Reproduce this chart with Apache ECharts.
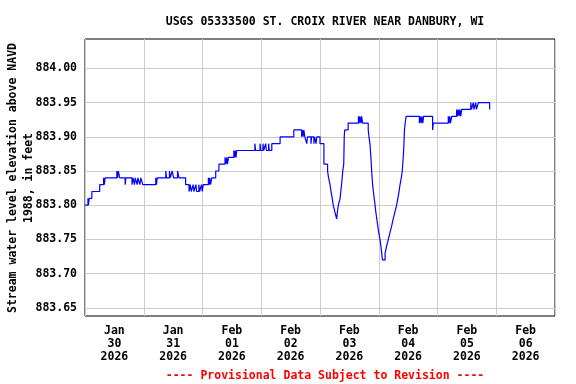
<!DOCTYPE html>
<html>
<head>
<meta charset="utf-8">
<script src="https://cdn.jsdelivr.net/npm/echarts@6/dist/echarts.min.js"></script>
<style>
html,body{margin:0;padding:0;background:#fff;}
#chart{width:576px;height:384px;}
</style>
</head>
<body>
<div id="chart"></div>
<script>
// Hours since 2026-01-30 00:00 and gage height (ft above NAVD 1988)
var hours = [
  0,1.2,1.4,1.7,2.8,6.0,7.6,7.9,8.2,
  13.0,13.3,13.6,14.2,16.4,16.7,
  19.2,19.6,20.2,20.5,21.3,21.6,22.4,22.8,23.6,
  28.9,29.2,29.5,
  33.0,33.3,34.5,34.8,35.6,36.2,37.8,38.4,
  41.1,42.5,43.0,43.4,44.2,44.5,45.3,45.6,46.5,46.8,47.6,47.9,
  48.3,50.4,50.7,51.0,51.3,51.8,53.4,54.7,
  57.2,57.5,57.9,58.2,58.6,60.8,61.1,61.4,61.7,62.0,
  69.4,69.7,71.5,71.8,72.7,73.0,73.8,74.1,75.0,75.3,76.3,
  79.7,85.3,88.5,88.8,89.1,89.4,89.8,
  90.6,90.9,92.3,92.6,93.5,93.8,94.4,94.7,96.0,
  97.6,99.1,99.5,100.1,100.5,101.0,101.4,102.1,102.8,103.1,103.5,
  104.2,104.5,104.8,105.3,105.7,105.9,106.1,107.5,
  111.7,112.0,112.3,112.7,113.0,113.4,
  115.7,116.0,116.4,116.8,117.1,117.5,117.8,118.5,118.8,119.2,
  119.6,120.0,120.5,120.9,121.2,121.5,
  122.6,123.2,123.9,124.6,125.3,125.9,126.6,127.3,127.8,128.3,128.7,129.2,129.6,
  130.0,130.3,130.5,130.8,131.2,
  136.6,136.9,137.3,137.6,138.0,138.3,142.0,142.3,
  148.4,148.7,149.0,149.3,149.8,
  151.8,152.1,152.5,152.8,153.2,153.5,153.9,
  157.6,157.9,158.6,158.9,159.6,159.9,160.7,165.3,165.5
];
var levels = [
  883.80,883.81,883.80,883.81,883.82,883.83,883.84,883.83,883.84,
  883.85,883.84,883.85,883.84,883.83,883.84,
  883.83,883.84,883.83,883.84,883.83,883.84,883.83,883.84,883.83,
  883.84,883.83,883.84,
  883.85,883.84,883.85,883.84,883.85,883.84,883.85,883.84,
  883.83,883.82,883.83,883.82,883.83,883.82,883.83,883.82,883.83,883.82,883.83,883.82,
  883.83,883.84,883.83,883.84,883.83,883.84,883.85,883.86,
  883.87,883.86,883.87,883.86,883.87,883.88,883.87,883.88,883.87,883.88,
  883.89,883.88,883.89,883.88,883.89,883.88,883.89,883.88,883.89,883.88,883.89,
  883.90,883.91,883.90,883.91,883.90,883.91,883.90,
  883.89,883.90,883.89,883.90,883.89,883.90,883.89,883.90,883.89,
  883.86,883.85,883.84,883.83,883.82,883.81,883.80,883.79,883.78,883.79,883.80,
  883.81,883.82,883.83,883.85,883.86,883.90,883.91,883.92,
  883.93,883.92,883.93,883.92,883.93,883.92,
  883.91,883.90,883.89,883.87,883.85,883.83,883.82,883.80,883.79,883.78,
  883.77,883.76,883.75,883.74,883.73,883.72,
  883.73,883.74,883.75,883.76,883.77,883.78,883.79,883.80,883.81,883.82,883.83,883.84,883.85,
  883.87,883.89,883.91,883.92,883.93,
  883.92,883.93,883.92,883.93,883.92,883.93,883.91,883.92,
  883.93,883.92,883.93,883.92,883.93,
  883.94,883.93,883.94,883.93,883.94,883.93,883.94,
  883.95,883.94,883.95,883.94,883.95,883.94,883.95,883.94,883.94
];
var dayLabels = ['Jan\n30\n2026','Jan\n31\n2026','Feb\n01\n2026','Feb\n02\n2026','Feb\n03\n2026','Feb\n04\n2026','Feb\n05\n2026','Feb\n06\n2026'];
var yTicks = [883.65,883.70,883.75,883.80,883.85,883.90,883.95,884.00];
var titleText = 'USGS 05333500 ST. CROIX RIVER NEAR DANBURY, WI';
var yNameLine1 = 'Stream water level elevation above NAVD';
var yNameLine2 = '1988, in feet';
var footer = '---- Provisional Data Subject to Revision ----';

var FONT = '"DejaVu Sans Mono", monospace';
var pts = hours.map(function(h,i){return [h, levels[i]];});

var chart = echarts.init(document.getElementById('chart'), null, {renderer:'canvas'});
chart.setOption({
  animation:false,
  backgroundColor:'#ffffff',
  title:[
    {text:titleText,left:320,top:11,textAlign:'center',
     textStyle:{fontFamily:FONT,fontWeight:'bold',fontSize:11.5,color:'#000'}},
    {text:footer,left:320,top:365,textAlign:'center',
     textStyle:{fontFamily:FONT,fontWeight:'bold',fontSize:11.5,color:'#ff0000'}}
  ],
  graphic:[
    {type:'text',x:13,y:178,rotation:Math.PI/2,
     style:{text:yNameLine1,font:'bold 11.5px '+FONT,fill:'#000',textAlign:'center',textVerticalAlign:'middle'}},
    {type:'text',x:29,y:178,rotation:Math.PI/2,
     style:{text:yNameLine2,font:'bold 11.5px '+FONT,fill:'#000',textAlign:'center',textVerticalAlign:'middle'}}
  ],
  grid:{left:85,top:39,width:470,height:277,show:true,borderColor:'#000',borderWidth:1,
    backgroundColor:'transparent',containLabel:false,outerBoundsMode:'none'},
  xAxis:[
    {type:'value',min:0,max:192,interval:24,
     axisLine:{show:false},axisTick:{show:false},axisLabel:{show:false},
     splitLine:{show:true,lineStyle:{color:'#cccccc',width:1}}},
    {type:'category',data:dayLabels,boundaryGap:true,position:'bottom',
     axisLine:{show:false},axisTick:{show:false},splitLine:{show:false},
     axisLabel:{show:true,interval:0,margin:9,fontFamily:FONT,fontWeight:'bold',fontSize:11.5,lineHeight:13,color:'#000'}}
  ],
  yAxis:{type:'value',min:883.638,max:884.043,
    axisLine:{show:false},
    axisTick:{show:false,customValues:yTicks},
    axisLabel:{customValues:yTicks,margin:8,fontFamily:FONT,fontWeight:'bold',fontSize:11.5,color:'#000',
      formatter:function(v){return v.toFixed(2);}},
    splitLine:{show:true,lineStyle:{color:'#cccccc',width:1}}
  },
  series:[{type:'line',xAxisIndex:0,data:pts,step:'end',showSymbol:false,
    lineStyle:{color:'#0000ff',width:1.2},clip:true}]
});
</script>
</body>
</html>
